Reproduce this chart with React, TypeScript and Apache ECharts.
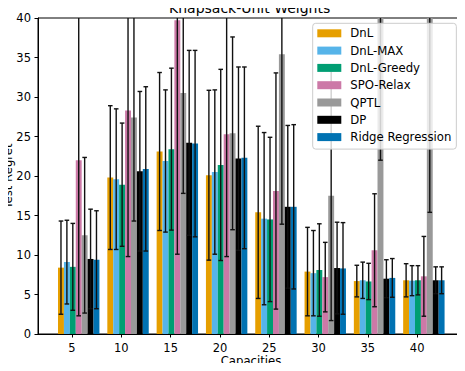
import React, { useEffect, useRef } from "react";
import * as echarts from "echarts";

const capacities = [5, 10, 15, 20, 25, 30, 35, 40];
const methods = ["DnL", "DnL-MAX", "DnL-Greedy", "SPO-Relax", "QPTL", "DP", "Ridge Regression"];
const colors = ["#E69F00", "#56B4E9", "#009E73", "#CC79A7", "#999999", "#000000", "#0072B2"];

const dnlMean = [8.4, 19.8, 23.1, 20.1, 15.4, 7.9, 6.7, 6.8];
const dnlStd = [5.9, 9.1, 10.0, 10.75, 10.9, 5.6, 2.0, 2.1];
const dnlMaxMean = [9.1, 19.6, 21.9, 20.5, 14.6, 7.7, 6.8, 6.75];
const dnlMaxStd = [5.3, 8.9, 9.0, 10.4, 10.9, 5.4, 2.3, 1.9];
const dnlGreedyMean = [8.5, 18.9, 23.4, 21.4, 14.5, 8.1, 6.65, 6.8];
const dnlGreedyStd = [5.5, 7.8, 10.25, 12.1, 10.4, 5.85, 2.3, 1.85];
const spoMean = [22.0, 28.3, 39.7, 25.3, 18.1, 7.2, 10.6, 7.3];
const spoStd = [19.7, 18.5, 29.6, 15.5, 14.95, 4.4, 7.15, 5.05];
const qptlMean = [12.5, 27.4, 30.5, 25.4, 35.4, 17.5, 46.0, 44.0];
const qptlStd = [9.85, 13.1, 12.7, 12.2, 21.5, 15.8, 24.0, 28.6];
const dpMean = [9.5, 20.6, 24.2, 22.2, 16.1, 8.35, 7.0, 6.8];
const dpStd = [6.3, 10.1, 11.7, 11.6, 10.3, 5.8, 2.4, 1.7];
const ridgeMean = [9.4, 20.9, 24.1, 22.3, 16.1, 8.3, 7.1, 6.8];
const ridgeStd = [6.2, 10.4, 11.8, 11.5, 10.4, 5.8, 2.45, 1.7];

const yTicks = [0, 5, 10, 15, 20, 25, 30, 35, 40];

const means = [dnlMean, dnlMaxMean, dnlGreedyMean, spoMean, qptlMean, dpMean, ridgeMean];
const stds = [dnlStd, dnlMaxStd, dnlGreedyStd, spoStd, qptlStd, dpStd, ridgeStd];

const FONT = "DejaVu Sans";
const BAR_START = -1.42;
const BAR_W = 0.6;
const CAP = 2.3;

function makeRender(idx: number, color: string) {
  return (params: any, api: any) => {
    const cap = api.value(0);
    const m = api.value(1);
    const s = api.value(2);
    const cs = params.coordSys;
    const top = cs.y;
    const bottom = cs.y + cs.height;
    const clampY = (y: number) => Math.max(top, Math.min(bottom, y));
    const xl = cap + BAR_START + idx * BAR_W;
    const p0 = api.coord([xl, 0]);
    const p1 = api.coord([xl + BAR_W, m]);
    const yBar = clampY(p1[1]);
    const xc = (p0[0] + p1[0]) / 2;
    const yHi = api.coord([cap, m + s])[1];
    const yLo = api.coord([cap, m - s])[1];
    const children: any[] = [
      {
        type: "rect",
        shape: { x: p0[0], y: yBar, width: p1[0] - p0[0], height: p0[1] - yBar },
        style: { fill: color },
      },
      {
        type: "line",
        shape: { x1: xc, y1: clampY(yHi), x2: xc, y2: clampY(yLo) },
        style: { stroke: "#111", lineWidth: 1.4 },
      },
    ];
    if (yHi >= top) {
      children.push({
        type: "line",
        shape: { x1: xc - CAP, y1: yHi, x2: xc + CAP, y2: yHi },
        style: { stroke: "#111", lineWidth: 1.4 },
      });
    }
    if (yLo <= bottom) {
      children.push({
        type: "line",
        shape: { x1: xc - CAP, y1: yLo, x2: xc + CAP, y2: yLo },
        style: { stroke: "#111", lineWidth: 1.4 },
      });
    }
    return { type: "group", children };
  };
}

export default function App() {
  const ref = useRef<HTMLDivElement>(null);
  useEffect(() => {
    if (!ref.current) return;
    const chart = echarts.init(ref.current, null, { renderer: "svg" });
    const series = methods.map((name, i) => ({
      type: "custom",
      name,
      renderItem: makeRender(i, colors[i]),
      itemStyle: { color: colors[i] },
      encode: { x: 0, y: 1 },
      data: capacities.map((c, j) => [c, means[i][j], stds[i][j]]),
      z: 2,
    }));
    chart.setOption({
      animation: false,
      textStyle: { fontFamily: FONT },
      title: {
        text: "Knapsack-Unit Weights",
        left: 169,
        top: 0,
        padding: [1, 0, 0, 0],
        textStyle: { fontFamily: FONT, fontSize: 14, lineHeight: 14, fontWeight: "normal", color: "#000" },
      },
      legend: {
        orient: "vertical",
        left: 312.7,
        top: 23.3,
        padding: [4, 5, 6, 4.6],
        itemWidth: 24,
        itemHeight: 8,
        itemGap: 5.3,
        icon: "rect",
        backgroundColor: "rgba(255,255,255,0.8)",
        borderColor: "#cccccc",
        borderWidth: 1,
        borderRadius: 3,
        z: 10,
        data: methods,
        textStyle: {
          fontFamily: FONT,
          fontSize: 11.7,
          lineHeight: 12,
          color: "#000",
          padding: [0, 0, 0, 4],
        },
      },
      grid: {
        left: 38,
        right: 1,
        top: 18,
        bottom: 37,
        show: true,
        borderColor: "#000",
        borderWidth: 1,
        backgroundColor: "transparent",
        containLabel: false,
        outerBoundsMode: "none",
      },
      xAxis: {
        type: "value",
        min: 1.55,
        max: 44.75,
        name: "Capacities",
        nameLocation: "middle",
        nameGap: 21,
        nameMoveOverlap: false,
        nameTextStyle: { fontFamily: FONT, fontSize: 11.7, color: "#000" },
        axisLine: { show: true, lineStyle: { color: "#000", width: 1 } },
        axisTick: { show: true, length: 3.5, lineStyle: { color: "#000" }, customValues: capacities },
        axisLabel: { fontFamily: FONT, fontSize: 11.5, color: "#000", margin: 8, customValues: capacities },
        splitLine: { show: false },
      },
      yAxis: {
        type: "value",
        min: 0,
        max: 40,
        interval: 5,
        name: "Test Regret",
        nameLocation: "middle",
        nameGap: 24,
        nameMoveOverlap: false,
        nameTextStyle: { fontFamily: FONT, fontSize: 11.7, color: "#000" },
        axisLine: { show: true, lineStyle: { color: "#000", width: 1 } },
        axisTick: { show: true, length: 3.5, lineStyle: { color: "#000" }, customValues: yTicks },
        axisLabel: { fontFamily: FONT, fontSize: 11.5, color: "#000", margin: 7, customValues: yTicks },
        splitLine: { show: false },
      },
      series,
    });
    return () => chart.dispose();
  }, []);
  return <div ref={ref} style={{ width: 465, height: 371, margin: -8 }} />;
}
